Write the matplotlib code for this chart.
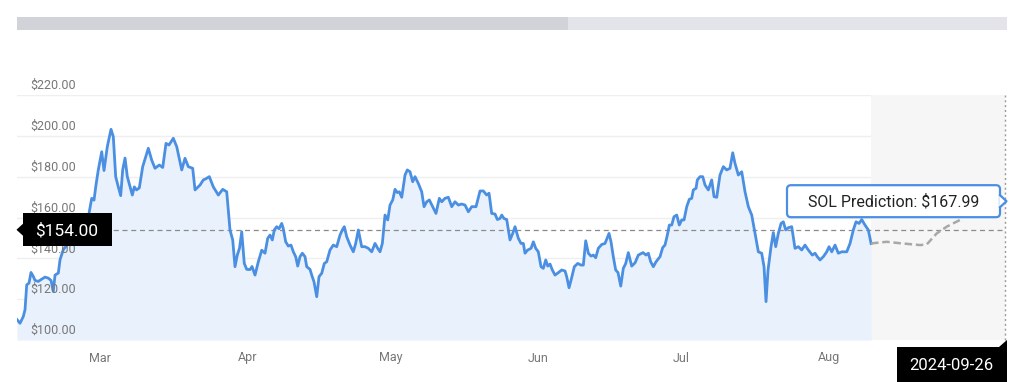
import matplotlib
matplotlib.use("Agg")
import matplotlib.pyplot as plt
from matplotlib.patches import Polygon, FancyBboxPatch, Rectangle

# ---------------- data (days relative to 1 March 2024) ----------------
days = [-17.42, -16.79, -16.10, -15.74, -15.38, -14.90, -14.48, -14.00, -13.64, -12.95,
        -12.24, -11.54, -10.85, -10.28, -9.80, -9.44, -8.75, -8.39, -7.70, -6.72,
        -5.46, -4.20, -3.15, -2.31, -1.74, -1.26, -0.84, -0.36, 0.36, 0.84,
        1.53, 2.31, 2.79, 3.29, 3.84, 4.34, 4.76, 5.25, 5.73, 6.78,
        7.20, 7.66, 8.25, 8.96, 10.14, 10.85, 11.54, 12.44, 13.16, 13.85,
        14.48, 15.38, 16.10, 17.15, 17.84, 18.53, 19.45, 19.94, 20.99, 21.68,
        22.24, 22.94, 23.78, 24.83, 25.75, 26.59, 27.28, 27.85, 28.33, 28.81,
        29.28, 29.74, 30.28, 30.79, 31.48, 31.90, 32.53, 33.22, 33.94, 34.63,
        35.19, 35.68, 36.16, 36.58, 37.08, 37.57, 38.13, 38.47, 38.97, 39.52,
        40.08, 40.57, 41.07, 41.49, 41.97, 42.46, 43.02, 43.38, 44.07, 44.43,
        44.91, 45.48, 45.96, 46.53, 47.07, 47.57, 48.27, 48.96, 49.67, 50.37,
        50.85, 51.27, 51.77, 52.47, 53.16, 53.66, 54.21, 54.92, 55.61, 56.31,
        57.02, 57.71, 58.28, 58.76, 59.25, 59.81, 60.38, 60.86, 61.43, 61.91,
        62.39, 62.81, 63.32, 64.01, 64.49, 65.06, 65.62, 66.11, 66.80, 67.51,
        68.00, 68.56, 69.11, 69.82, 70.51, 71.21, 71.71, 72.40, 73.10, 73.81,
        74.50, 75.20, 75.91, 76.60, 77.30, 78.01, 78.91, 79.75, 80.44, 81.15,
        81.64, 82.20, 82.90, 83.38, 83.95, 84.30, 84.78, 85.35, 86.04, 86.61,
        87.09, 87.79, 88.35, 88.84, 89.19, 89.76, 90.45, 90.94, 91.44, 91.98,
        92.55, 93.03, 93.54, 93.96, 94.44, 94.92, 95.49, 96.19, 96.89, 97.59,
        97.94, 98.43, 98.99, 99.54, 100.25, 100.94, 101.43, 101.93, 102.48, 103.04,
        103.53, 104.03, 104.57, 105.29, 105.98, 106.82, 107.24, 107.72, 108.22, 108.71,
        109.28, 109.82, 110.33, 110.87, 111.58, 112.28, 112.97, 113.96, 114.59, 115.07,
        115.57, 116.12, 116.68, 117.52, 118.09, 118.57, 119.06, 119.48, 119.98, 120.46,
        121.03, 121.57, 122.08, 122.56, 123.13, 123.67, 124.18, 124.51, 125.08, 125.35,
        125.92, 126.49, 126.97, 127.66, 128.37, 128.86, 129.42, 130.11, 130.81, 131.52,
        132.21, 132.78, 133.26, 133.96, 134.67, 135.36, 136.06, 136.77, 137.46, 138.16,
        138.86, 139.35, 139.77, 140.19, 140.82, 141.30, 141.80, 142.35, 142.92, 143.40,
        143.90, 144.45, 145.16, 145.85, 146.55, 147.26, 147.95, 148.64, 149.48, 150.05,
        150.53, 151.10, 151.79, 152.51, 152.99, 153.56, 154.25, 154.94, 155.66, 156.71,
        157.40, 158.09, 158.66, 159.29, 159.85, 160.54, 161.24, 161.81]
prices = [110.0, 108.2, 111.5, 114.8, 127.0, 127.9, 133.1, 131.1, 129.2, 128.7,
          129.8, 130.8, 130.3, 129.2, 123.8, 131.8, 132.8, 139.3, 144.3, 147.0,
          150.0, 153.0, 157.0, 162.0, 169.4, 168.5, 176.0, 183.3, 192.2, 183.0,
          194.7, 203.2, 199.6, 180.0, 175.0, 170.7, 183.3, 189.1, 180.0, 171.0,
          175.0, 173.5, 174.5, 184.9, 193.9, 188.1, 184.1, 185.7, 184.5, 196.3,
          195.5, 198.8, 194.7, 183.3, 189.0, 184.9, 184.1, 173.5, 175.9, 178.4,
          179.0, 180.0, 175.0, 171.0, 173.8, 172.6, 153.9, 149.0, 135.9, 141.6,
          145.0, 153.0, 137.5, 134.6, 134.5, 136.0, 131.8, 138.3, 144.0, 142.5,
          149.8, 151.4, 149.0, 153.9, 155.5, 154.5, 157.1, 154.5, 148.1, 146.0,
          146.5, 143.2, 140.8, 136.2, 140.8, 142.5, 140.8, 135.9, 134.6, 131.8,
          128.5, 121.2, 131.0, 132.7, 137.5, 138.3, 144.1, 146.5, 145.7, 151.4,
          153.9, 155.5, 150.6, 146.5, 143.2, 147.3, 153.9, 145.7, 145.7, 144.9,
          143.2, 147.3, 144.9, 143.2, 147.3, 161.2, 158.8, 166.1, 168.6, 173.8,
          172.2, 172.6, 169.9, 180.8, 183.3, 182.4, 177.5, 180.0, 176.7, 172.6,
          165.3, 167.7, 168.6, 165.3, 162.0, 169.4, 167.7, 169.4, 169.9, 165.3,
          167.7, 166.1, 166.6, 166.1, 162.8, 165.3, 165.3, 173.0, 173.0, 171.0,
          171.9, 162.0, 161.7, 159.0, 159.5, 161.2, 159.5, 159.0, 149.0, 152.2,
          155.5, 149.8, 147.3, 147.3, 142.5, 144.1, 144.9, 148.1, 144.9, 143.2,
          135.9, 135.1, 139.2, 136.2, 137.2, 134.3, 131.8, 133.0, 134.3, 133.8,
          131.0, 125.6, 130.6, 135.9, 137.5, 136.7, 136.7, 148.6, 142.5, 141.1,
          141.6, 140.3, 144.9, 146.8, 147.3, 152.2, 148.1, 140.8, 134.3, 133.0,
          126.4, 135.1, 137.5, 142.8, 136.2, 137.8, 141.6, 142.8, 141.6, 142.5,
          138.3, 135.9, 138.3, 140.8, 145.3, 146.5, 151.4, 156.3, 156.3, 160.4,
          161.2, 156.3, 158.8, 158.8, 165.3, 168.9, 169.4, 173.5, 174.3, 178.4,
          180.0, 180.0, 175.9, 173.5, 178.4, 170.2, 169.9, 180.8, 184.9, 183.3,
          184.1, 191.7, 186.5, 180.8, 182.4, 172.6, 165.3, 161.2, 152.2, 143.2,
          142.5, 135.9, 118.8, 134.3, 145.7, 152.6, 145.7, 152.2, 157.1, 157.9,
          153.9, 155.0, 155.5, 144.9, 145.7, 144.1, 146.5, 144.1, 141.6, 142.5,
          140.8, 139.2, 140.8, 143.2, 145.7, 143.2, 146.5, 142.5, 143.2, 143.2,
          147.3, 153.9, 157.9, 157.1, 159.0, 156.3, 153.9, 147.3]

pred_days = [161.81, 165.10, 167.89, 172.09, 173.49, 175.59, 177.69, 180.48,
             181.89, 184.68, 188.18, 189.92]
pred_prices = [147.3, 148.1, 147.4, 146.5, 146.8, 152.2, 155.5, 158.8,
               163.7, 164.5, 165.3, 167.99]

month_labels = ["Mar", "Apr", "May", "Jun", "Jul", "Aug"]
month_days = [0, 31, 61, 92, 122, 153]
y_ticks = [100, 120, 140, 160, 180, 200, 220]
current_price = 154.00
prediction_value = 167.99
end_date_label = "2024-09-26"

# ---------------- figure ----------------
W, H = 1024, 382
fig = plt.figure(figsize=(W / 100, H / 100), dpi=100)
fig.patch.set_facecolor("white")
FONT = ["Roboto", "DejaVu Sans"]

ax = fig.add_axes([17 / W, 42 / H, (1005 - 17) / W, 245 / H])
ax.set_xlim(days[0], pred_days[-1])
ax.set_ylim(100, 220)
for s in ax.spines.values():
    s.set_visible(False)
ax.set_xticks([])
ax.set_yticks([])

# grid lines
for v in y_ticks:
    ax.axhline(v, color="#efefef", lw=1.0, zorder=0)

# prediction shaded region
ax.axvspan(days[-1], pred_days[-1], color="#f6f6f6", zorder=0.5, lw=0)

# area + line
ax.fill_between(days, prices, 100, color="#e9f1fc", zorder=1, lw=0)
ax.plot(days, prices, color="#4a8fe2", lw=2.0, zorder=3, solid_joinstyle="round")
ax.plot(pred_days, pred_prices, color="#a8a8a8", lw=1.8, ls=(0, (3, 1.5)), zorder=3)

# current price dashed line
ax.axhline(current_price, color="#8a8a8a", lw=0.9, ls=(0, (4, 3)), zorder=2)

# right dotted vertical line
ax.axvline(pred_days[-1], color="#9a9a9a", lw=1.0, ls=(0, (1.5, 2)), zorder=2, clip_on=False)

# y labels (above grid lines)
for v in y_ticks:
    ax.annotate(f"${v:.2f}", xy=(0, v), xycoords=("axes fraction", "data"),
                xytext=(13, 3), textcoords="offset pixels", ha="left", va="bottom",
                fontsize=9, color="#777777", family=FONT, zorder=4)

# month labels
for d, lab in zip(month_days, month_labels):
    ax.annotate(lab, xy=(d, 100), xycoords="data", xytext=(0, -18),
                textcoords="offset pixels", ha="center", va="center",
                fontsize=9, color="#777777", family=FONT, annotation_clip=False)

# ---------------- overlay in pixel coordinates ----------------
ov = fig.add_axes([0, 0, 1, 1], zorder=10)
ov.set_xlim(0, W)
ov.set_ylim(H, 0)
ov.axis("off")
ov.patch.set_alpha(0)

def to_px(x, y):
    dx, dy = ax.transData.transform((x, y))
    return dx, H - dy

# scrollbar
ov.add_patch(Rectangle((17, 17), 990, 13, color="#e3e4e9", lw=0))
ov.add_patch(Rectangle((17, 17), 551, 13, color="#d2d3d8", lw=0))

# current price label
_, cy = to_px(days[0], current_price)
ov.add_patch(Rectangle((22.5, cy - 16.5), 89.5, 33, color="black", lw=0))
ov.add_patch(Polygon([(16.5, cy), (23, cy - 6), (23, cy + 6)], closed=True, color="black", lw=0))
ov.text(67, cy + 0.5, f"${current_price:.2f}", color="white", fontsize=12.5, ha="center",
        va="center", family=FONT)

# prediction tooltip
px, py = to_px(pred_days[-1], prediction_value)
bx0, bx1 = 787, 1000
ov.add_patch(FancyBboxPatch((bx0, py - 16), bx1 - bx0, 32,
                            boxstyle="round,pad=0,rounding_size=4",
                            facecolor="white", edgecolor="#4a8fe2", lw=1.6))
ov.add_patch(Polygon([(bx1 - 0.8, py - 6), (bx1 + 6.5, py), (bx1 - 0.8, py + 6)], closed=True,
                     facecolor="white", edgecolor="none"))
ov.plot([bx1, bx1 + 6.5, bx1], [py - 6, py, py + 6], color="#4a8fe2", lw=1.6)
ov.text((bx0 + bx1) / 2, py + 0.5, f"SOL Prediction: ${prediction_value:.2f}", color="#222222",
        fontsize=11.5, ha="center", va="center", family=FONT)

# end date label
ov.add_patch(Rectangle((897, 347), 110, 36, color="black", lw=0))
ov.add_patch(Polygon([(999, 347), (1007, 340), (1007, 347)], closed=True, color="black", lw=0))
ov.text(951, 365, end_date_label, color="white", fontsize=12, ha="center", va="center",
        family=FONT)

fig.savefig("out.png", dpi=100, facecolor="white")
